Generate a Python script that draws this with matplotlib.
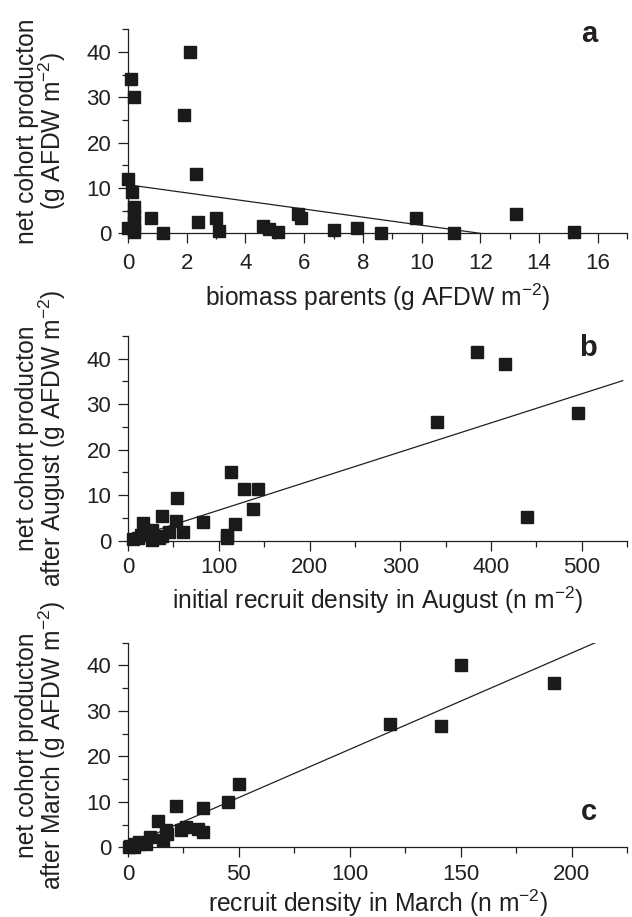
import matplotlib
matplotlib.use("Agg")
import matplotlib.pyplot as plt
from matplotlib.ticker import MultipleLocator

plt.rcParams['font.family'] = ['Liberation Sans', 'DejaVu Sans']
plt.rcParams['mathtext.fontset'] = 'custom'
plt.rcParams['mathtext.rm'] = 'Liberation Sans'
plt.rcParams['mathtext.it'] = 'Liberation Sans:italic'
plt.rcParams['mathtext.bf'] = 'Liberation Sans:bold'

ink = '#231f20'

# panel a: biomass parents vs net cohort production
a_x = [2.1, 0.1, 0.2, 1.9, 2.3, 0.0, 0.15, 0.2, 0.2, 0.2, 0.2, 0.2, 0.0, 0.8, 1.2,
       2.4, 3.0, 3.1, 4.6, 4.8, 5.1, 5.8, 5.9, 7.0, 7.8, 8.6, 9.8, 11.1, 13.2, 15.2]
a_y = [40.0, 34.0, 30.0, 26.0, 13.0, 12.0, 9.0, 5.8, 4.0, 2.5, 1.0, 0.3, 1.2, 3.4, 0.0,
       2.4, 3.4, 0.4, 1.5, 0.9, 0.3, 4.2, 3.4, 0.8, 1.2, 0.0, 3.4, 0.0, 4.3, 0.3]
a_fit = (10.7, -0.893)     # intercept, slope
a_fit_range = (0.2, 12.0)

# panel b: initial recruit density in August
b_x = [114, 128, 143, 138, 54, 37, 53, 83, 118, 61, 109, 109, 17, 18, 27, 23, 26,
       5, 11, 14, 34, 45, 38, 384, 415, 340, 496, 440]
b_y = [15.0, 11.3, 11.3, 6.9, 9.3, 5.5, 4.4, 4.2, 3.6, 1.8, 1.3, 0.6, 3.9, 2.4, 2.4,
       1.3, 0.2, 0.3, 0.5, 1.2, 0.6, 1.8, 1.0, 41.4, 38.8, 26.0, 28.0, 5.2]
b_fit = (0.3, 0.064)
b_fit_range = (30, 545)

# panel c: recruit density in March
c_x = [118, 50, 45, 21.5, 34, 13.5, 17, 16, 17.5, 24, 26, 31.5, 34, 10, 8, 5, 3,
       1, 2.5, 0.5, 5, 150, 192, 141]
c_y = [27.2, 14.0, 10.0, 9.1, 8.6, 5.8, 3.7, 1.5, 3.0, 3.7, 4.4, 4.0, 3.4, 2.2, 0.8,
       1.2, 0.8, 0.3, 0.0, 0.0, 0.7, 40.0, 36.1, 26.6]
c_fit = (0.36, 0.212)
c_fit_range = (5, 211)

panels = [
    dict(x=a_x, y=a_y, fit=a_fit, rng=a_fit_range, xmax=17, major=2, minor=1,
         xlabel='biomass parents (g AFDW m$^{-2}$)',
         ylabel='net cohort producton\n(g AFDW m$^{-2}$)', tag='a', tagy=0.975,
         pad=7, xlab_y=-0.235, rect=[0.2025, 0.7456, 0.790, 0.2225]),
    dict(x=b_x, y=b_y, fit=b_fit, rng=b_fit_range, xmax=550, major=100, minor=50,
         xlabel='initial recruit density in August (n m$^{-2}$)',
         ylabel='net cohort producton\nafter August (g AFDW m$^{-2}$)', tag='b', tagy=0.94,
         pad=5, xlab_y=-0.215, rect=[0.2025, 0.4104, 0.790, 0.2232]),
    dict(x=c_x, y=c_y, fit=c_fit, rng=c_fit_range, xmax=225, major=50, minor=25,
         xlabel='recruit density in March (n m$^{-2}$)',
         ylabel='net cohort producton\nafter March (g AFDW m$^{-2}$)', tag='c', tagy=0.175,
         pad=5, xlab_y=-0.195, rect=[0.2025, 0.0760, 0.790, 0.2231]),
]

fig = plt.figure(figsize=(6.32, 9.17), dpi=100)

for p in panels:
    ax = fig.add_axes(p['rect'])
    ax.plot(p['x'], p['y'], ls='none', marker='s', ms=8.5, color='#1a1a1a',
            mec='#1a1a1a', clip_on=False, zorder=3)
    x0, x1 = p['rng']
    b0, b1 = p['fit']
    ax.plot([x0, x1], [b0 + b1 * x0, b0 + b1 * x1], color=ink, lw=0.9, zorder=2)

    ax.set_xlim(0, p['xmax'])
    ax.set_ylim(0, 45)
    ax.xaxis.set_major_locator(MultipleLocator(p['major']))
    ax.xaxis.set_minor_locator(MultipleLocator(p['minor']))
    ax.yaxis.set_major_locator(MultipleLocator(10))
    ax.yaxis.set_minor_locator(MultipleLocator(5))
    for s in ['top', 'right']:
        ax.spines[s].set_visible(False)
    for s in ['left', 'bottom']:
        ax.spines[s].set_color(ink)
        ax.spines[s].set_linewidth(0.9)
    ax.tick_params(which='both', direction='out', color=ink, width=0.9,
                   labelcolor=ink, labelsize=16)
    ax.tick_params(which='major', length=7)
    ax.tick_params(which='minor', length=4)
    ax.tick_params(axis='x', which='major', pad=p['pad'])
    ax.tick_params(axis='y', which='major', pad=5)

    ax.set_xlabel(p['xlabel'], fontsize=17.7, color=ink)
    ax.xaxis.set_label_coords(0.5, p['xlab_y'])
    ax.set_ylabel(p['ylabel'], fontsize=17.7, color=ink, linespacing=0.9)
    ax.yaxis.set_label_coords(-0.12, 0.5)
    ax.text(0.94, p['tagy'], p['tag'], transform=ax.transAxes, ha='right',
            va='center', fontsize=21, fontweight='bold', color=ink)

fig.savefig('out.png', dpi=100)
